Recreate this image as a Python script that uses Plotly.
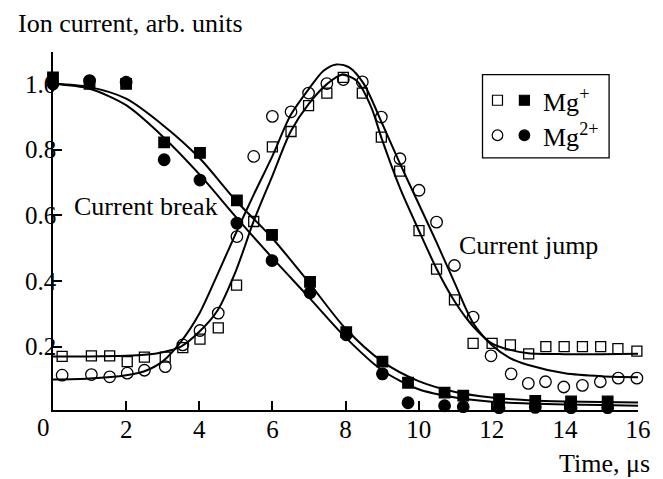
import plotly.graph_objects as go

# --- measured points -------------------------------------------------------
# Current jump, Mg+ (open squares)
jump_mg1_t = [0.25, 1.05, 1.55, 2.03, 2.5, 3.07, 3.55, 4.02, 4.52, 5.02, 5.49, 6.0,
              6.51, 6.99, 7.49, 7.94, 8.46, 8.98, 9.48, 10.01, 10.49, 10.98, 11.49,
              12.01, 12.51, 13.01, 13.48, 13.98, 14.48, 14.98, 15.45, 15.97]
jump_mg1_i = [0.170, 0.172, 0.172, 0.154, 0.168, 0.168, 0.197, 0.223, 0.257, 0.387,
              0.581, 0.808, 0.855, 0.934, 0.972, 1.020, 0.972, 0.838, 0.734, 0.553,
              0.436, 0.342, 0.210, 0.210, 0.205, 0.178, 0.200, 0.200, 0.200, 0.200,
              0.194, 0.186]

# Current jump, Mg2+ (open circles)
jump_mg2_t = [0.25, 1.05, 1.55, 2.03, 2.5, 3.07, 3.55, 4.02, 4.52, 5.03, 5.49, 6.0,
              6.51, 6.99, 7.49, 7.94, 8.46, 8.98, 9.49, 10.01, 10.49, 10.98, 11.49,
              11.98, 12.53, 13.0, 13.47, 13.97, 14.48, 14.97, 15.46, 15.97]
jump_mg2_i = [0.113, 0.115, 0.108, 0.119, 0.128, 0.139, 0.205, 0.249, 0.302, 0.535,
              0.779, 0.901, 0.915, 0.972, 1.001, 1.013, 1.006, 0.899, 0.772, 0.676,
              0.579, 0.447, 0.290, 0.172, 0.117, 0.088, 0.093, 0.077, 0.082, 0.093,
              0.104, 0.104]

# Current break, Mg+ (filled squares)
break_mg1_t = [0.0, 1.0, 2.0, 3.04, 4.02, 5.03, 5.99, 7.03, 8.02, 9.01, 9.71, 10.71,
               11.22, 12.2, 13.19, 14.17, 15.17]
break_mg1_i = [1.020, 1.000, 1.000, 0.822, 0.790, 0.645, 0.540, 0.397, 0.244, 0.154,
               0.090, 0.060, 0.051, 0.040, 0.035, 0.033, 0.033]

# Current break, Mg2+ (filled circles)
break_mg2_t = [0.0, 1.0, 2.0, 3.04, 4.02, 5.03, 5.99, 7.03, 8.02, 9.01, 9.71, 10.71,
               11.22, 12.2, 13.19, 14.17, 15.17]
break_mg2_i = [1.000, 1.010, 1.005, 0.769, 0.707, 0.576, 0.462, 0.364, 0.236, 0.117,
               0.029, 0.020, 0.017, 0.014, 0.015, 0.014, 0.014]

# --- fitted curves ---------------------------------------------------------
fit_jump_mg1_t = [0, 1, 2, 2.5, 3, 3.5, 4, 4.5, 5, 5.5, 6, 6.5, 7, 7.5, 7.9, 8.3,
                  8.7, 9, 9.5, 10, 10.5, 11, 11.5, 12, 12.5, 13, 14, 15, 16]
fit_jump_mg1_i = [0.170, 0.170, 0.172, 0.175, 0.183, 0.200, 0.245, 0.310, 0.430,
                  0.585, 0.720, 0.855, 0.940, 1.000, 1.028, 1.010, 0.930, 0.830,
                  0.680, 0.555, 0.435, 0.335, 0.260, 0.210, 0.190, 0.180, 0.177,
                  0.177, 0.178]

fit_jump_mg2_t = [0, 1, 2, 2.5, 3, 3.5, 4, 4.5, 5, 5.5, 6, 6.5, 7, 7.4, 7.75, 8.1,
                  8.5, 9, 9.5, 10, 10.5, 11, 11.5, 12, 12.5, 13, 14, 15, 16]
fit_jump_mg2_i = [0.100, 0.103, 0.113, 0.125, 0.155, 0.215, 0.300, 0.420, 0.545,
                  0.665, 0.780, 0.905, 0.985, 1.040, 1.059, 1.050, 1.000, 0.880,
                  0.755, 0.635, 0.515, 0.390, 0.270, 0.205, 0.165, 0.144, 0.119,
                  0.110, 0.107]

fit_break_mg1_t = [0, 1, 2, 3, 4, 5, 6, 7, 8, 9, 10, 11, 12, 13, 14, 15, 16]
fit_break_mg1_i = [1.000, 0.990, 0.955, 0.875, 0.775, 0.645, 0.530, 0.395, 0.255,
                   0.155, 0.095, 0.062, 0.045, 0.037, 0.033, 0.031, 0.030]

fit_break_mg2_t = [0, 1, 2, 3, 4, 5, 6, 7, 8, 9, 10, 11, 12, 13, 14, 15, 16]
fit_break_mg2_i = [1.000, 0.985, 0.935, 0.840, 0.725, 0.595, 0.470, 0.350, 0.228,
                   0.128, 0.070, 0.045, 0.032, 0.027, 0.024, 0.022, 0.020]

# --- axis ticks --------------------------------------------------------------
x_ticks = [2, 4, 6, 8, 10, 12, 14, 16]
x_ticktext = ["2", "4", "6", "8", "10", "12", "14", "16"]
y_ticks = [0.2, 0.4, 0.6, 0.8, 1.0]
y_ticktext = ["0.2", "0.4", "0.6", "0.8", "1.0"]

FONT = "Liberation Serif, Times New Roman, serif"
INK = "black"

fig = go.Figure()

# fitted curves
for t, i in [(fit_break_mg1_t, fit_break_mg1_i), (fit_break_mg2_t, fit_break_mg2_i),
             (fit_jump_mg1_t, fit_jump_mg1_i), (fit_jump_mg2_t, fit_jump_mg2_i)]:
    fig.add_trace(go.Scatter(x=t, y=i, mode="lines",
                             line=dict(color=INK, width=2, shape="spline", smoothing=0.8),
                             hoverinfo="skip", showlegend=False))

# measured points
marker_sets = [
    (jump_mg1_t, jump_mg1_i, "square-open", 10),
    (jump_mg2_t, jump_mg2_i, "circle-open", 11.5),
    (break_mg1_t, break_mg1_i, "square", 10.5),
    (break_mg2_t, break_mg2_i, "circle", 11.5),
]
for t, i, sym, sz in marker_sets:
    fig.add_trace(go.Scatter(x=t, y=i, mode="markers", cliponaxis=False,
                             marker=dict(symbol=sym, size=sz, color=INK,
                                         line=dict(color=INK, width=1.3)),
                             showlegend=False))

# legend box drawn with shapes
LX0, LX1, LY0, LY1 = 0.7342, 0.9506, 0.7042, 0.9369
fig.add_shape(type="rect", xref="paper", yref="paper", x0=LX0, x1=LX1, y0=LY0, y1=LY1,
              line=dict(color=INK, width=1.3), fillcolor="white", layer="above")

row_y = [0.8652, 0.7675]
sym_x = [0.7598, 0.8058]
legend_items = [("rect", "Mg<sup>+</sup>"), ("circle", "Mg<sup>2+</sup>")]
for (shape_type, label), ry in zip(legend_items, row_y):
    for sx, fill in zip(sym_x, ["white", INK]):
        half = 5 if shape_type == "rect" else 5.3
        fig.add_shape(type=shape_type, xref="paper", yref="paper",
                      xsizemode="pixel", ysizemode="pixel",
                      xanchor=sx, yanchor=ry, x0=-half, x1=half, y0=-half, y1=half,
                      line=dict(color=INK, width=1.2), fillcolor=fill, layer="above")
    fig.add_annotation(xref="paper", yref="paper", x=0.8348, y=ry, text=label,
                       showarrow=False, xanchor="left", yanchor="middle",
                       font=dict(family=FONT, size=26, color=INK))

# axis titles and curve labels
fig.add_annotation(xref="paper", yref="paper", x=-0.063, y=1.081,
                   text="Ion current, arb. units", showarrow=False,
                   xanchor="left", yanchor="middle",
                   font=dict(family=FONT, size=26, color=INK))
fig.add_annotation(xref="paper", yref="paper", x=1.022, y=-0.192,
                   text="Time, μs", showarrow=False, borderpad=0,
                   xanchor="right", yanchor="bottom",
                   font=dict(family=FONT, size=26, color=INK))
fig.add_annotation(x=0.51, y=0.626, text="Current break", showarrow=False,
                   xanchor="left", yanchor="middle",
                   font=dict(family=FONT, size=26, color=INK))
fig.add_annotation(x=11.05, y=0.509, text="Current jump", showarrow=False,
                   xanchor="left", yanchor="middle",
                   font=dict(family=FONT, size=26, color=INK))
# origin label, set slightly left of the corner
fig.add_annotation(x=0, xref="x", yref="paper", y=-0.048, text="0", showarrow=False,
                   xanchor="center", yanchor="middle", xshift=-10,
                   font=dict(family=FONT, size=25, color=INK))

fig.update_layout(
    width=663, height=479,
    margin=dict(l=53, r=23, t=52, b=69),
    paper_bgcolor="white", plot_bgcolor="white",
    font=dict(family=FONT, size=25, color=INK),
    showlegend=False,
)
fig.update_xaxes(range=[0, 16], tickvals=x_ticks, ticktext=x_ticktext,
                 ticks="inside", ticklen=9, tickwidth=1.5, tickcolor=INK,
                 ticklabelstandoff=-4,
                 showline=True, linecolor=INK, linewidth=1.5,
                 showgrid=False, zeroline=False,
                 tickfont=dict(family=FONT, size=25, color=INK))
fig.update_yaxes(range=[0.007, 1.097], tickvals=y_ticks, ticktext=y_ticktext,
                 ticks="inside", ticklen=9, tickwidth=1.5, tickcolor=INK,
                 ticklabelstandoff=-10,
                 showline=True, linecolor=INK, linewidth=1.5,
                 showgrid=False, zeroline=False,
                 tickfont=dict(family=FONT, size=25, color=INK))

fig.write_html("out.html")
